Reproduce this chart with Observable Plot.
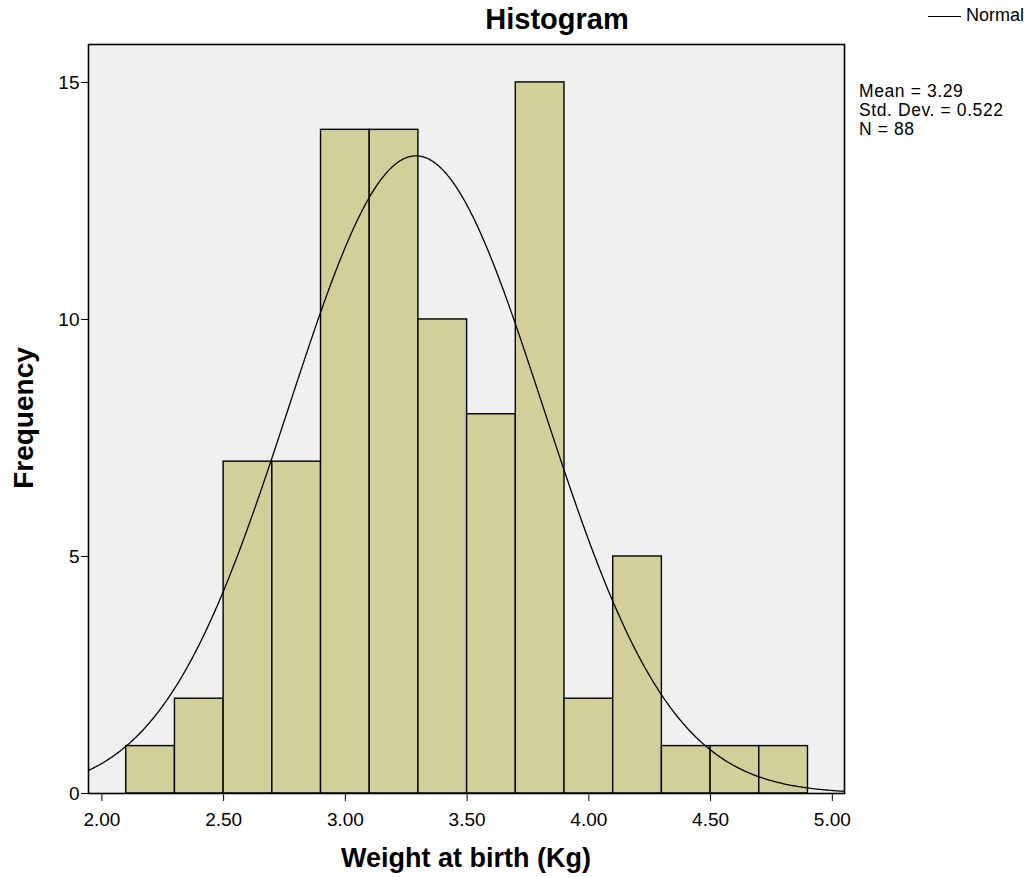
<!DOCTYPE html>
<html>
<head>
<meta charset="utf-8">
<script src="https://cdn.jsdelivr.net/npm/d3@7"></script>
<script src="https://cdn.jsdelivr.net/npm/@observablehq/plot@0.6"></script>
<style>
  html, body { margin: 0; padding: 0; background: #fff; }
  #wrap { position: relative; width: 1030px; height: 877px; font-family: "Liberation Sans", Arial, sans-serif; }
  #wrap svg { position: absolute; left: 0; top: 0; }
  .ann { position: absolute; color: #000; white-space: nowrap; }
</style>
</head>
<body>
<div id="wrap"></div>
<script>
// Histogram bins (Weight at birth, Kg) and frequencies
const binStarts = [2.1, 2.3, 2.5, 2.7, 2.9, 3.1, 3.3, 3.5, 3.7, 3.9, 4.1, 4.3, 4.5, 4.7];
const binWidth = 0.2;
const counts = [1, 2, 7, 7, 14, 14, 10, 8, 15, 2, 5, 1, 1, 1];
const xTicks = [2.0, 2.5, 3.0, 3.5, 4.0, 4.5, 5.0];
const yTicks = [0, 5, 10, 15];
const stats = { mean: 3.29, sd: 0.522, n: 88 };

const bins = binStarts.map((s, i) => ({ x1: s, x2: +(s + binWidth).toFixed(2), count: counts[i] }));

// Normal curve defined by the reported mean / std. dev., scaled to counts
const xDomain = [1.945, 5.05];
const curve = d3.range(xDomain[0], xDomain[1] + 0.0001, 0.005).map(x => {
  const z = (x - stats.mean) / stats.sd;
  return { x, y: stats.n * binWidth * Math.exp(-0.5 * z * z) / (stats.sd * Math.sqrt(2 * Math.PI)) };
});

const chart = Plot.plot({
  width: 1030,
  height: 877,
  marginLeft: 88,
  marginRight: 186,
  marginTop: 44,
  marginBottom: 84,
  style: { fontFamily: "'Liberation Sans', Arial, sans-serif", fontSize: "19px", background: "transparent", overflow: "visible" },
  x: { domain: xDomain, ticks: xTicks, tickFormat: d => d.toFixed(2), tickSize: 8, tickPadding: 11, label: null },
  y: { domain: [0, 15.8], ticks: yTicks, tickSize: 7, tickPadding: 2, label: null },
  marks: [
    Plot.frame({ fill: "#f0f0f0" }),
    Plot.rectY(bins, { x1: "x1", x2: "x2", y: "count", fill: "#d3cf98", stroke: "#000", strokeWidth: 1.4 }),
    Plot.line(curve, { x: "x", y: "y", stroke: "#000", strokeWidth: 1.3, clip: true }),
    Plot.frame({ stroke: "#000", strokeWidth: 1.6 })
  ]
});

const wrap = document.getElementById("wrap");
wrap.appendChild(chart);
// thicker tick lines
chart.querySelectorAll("g[aria-label$='axis'] line, g[aria-label*='tick'] line").forEach(l => { l.setAttribute("stroke-width", "2"); });

function ann(html, css) {
  const d = document.createElement("div");
  d.className = "ann";
  d.innerHTML = html;
  Object.assign(d.style, css);
  wrap.appendChild(d);
  return d;
}
ann("Histogram", { left: "407px", width: "300px", textAlign: "center", top: "3px", fontSize: "29px", fontWeight: "bold" });
ann("Weight at birth (Kg)", { left: "266px", width: "400px", textAlign: "center", top: "843px", fontSize: "27px", fontWeight: "bold" });
ann("Frequency", { left: "-76px", width: "200px", textAlign: "center", top: "402px", fontSize: "28px", fontWeight: "bold", transform: "rotate(-90deg)" });
ann(`Mean = ${stats.mean}<br>Std. Dev. = ${stats.sd}<br>N = ${stats.n}`, { left: "859px", top: "82px", fontSize: "17.5px", lineHeight: "19px", letterSpacing: "0.6px" });
ann(`<span style="display:inline-block;width:33px;height:0;border-top:1.5px solid #000;vertical-align:middle;margin-right:5px"></span>Normal`, { left: "928px", top: "5px", fontSize: "18px" });
</script>
</body>
</html>
